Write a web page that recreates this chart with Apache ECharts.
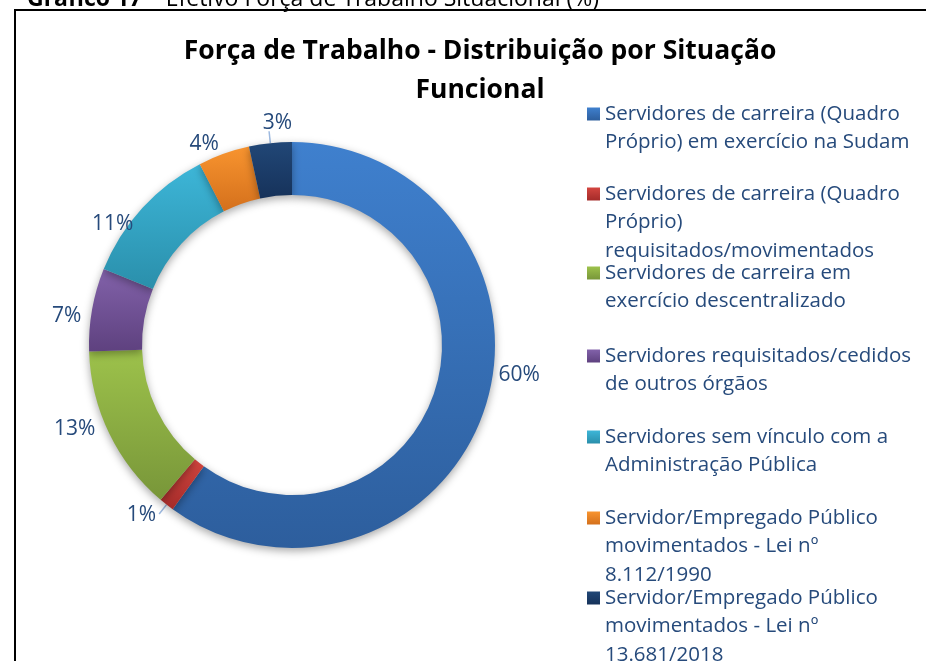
<!DOCTYPE html>
<html>
<head>
    <meta charset="utf-8">
    <title>Força de Trabalho</title>
    <script src="https://cdn.jsdelivr.net/npm/echarts@6/dist/echarts.min.js"></script>
</head>
<body style="margin: 0">
<div id="main" style="width: 926px; height: 661px"></div>
<script type="text/javascript">
// categorias (nome da série) e texto quebrado da legenda
var categorias = [
    'Servidores de carreira (Quadro Próprio) em exercício na Sudam',
    'Servidores de carreira (Quadro Próprio) requisitados/movimentados',
    'Servidores de carreira em exercício descentralizado',
    'Servidores requisitados/cedidos de outros órgãos',
    'Servidores sem vínculo com a Administração Pública',
    'Servidor/Empregado Público movimentados - Lei nº 8.112/1990',
    'Servidor/Empregado Público movimentados - Lei nº 13.681/2018'
];
var legendaTexto = [
    'Servidores de carreira (Quadro\nPróprio) em exercício na Sudam',
    'Servidores de carreira (Quadro\nPróprio)\nrequisitados/movimentados',
    'Servidores de carreira em\nexercício descentralizado',
    'Servidores requisitados/cedidos\nde outros órgãos',
    'Servidores sem vínculo com a\nAdministração Pública',
    'Servidor/Empregado Público\nmovimentados - Lei nº\n8.112/1990',
    'Servidor/Empregado Público\nmovimentados - Lei nº\n13.681/2018'
];
// percentuais
var valores = [60.0, 1.2, 13.3, 6.6, 11.4, 4.1, 3.4];
var coresTopo = ['#3F80CE', '#D3453F', '#9DC24B', '#8262AA', '#3DB6D8', '#F8942F', '#214777'];
var coresBase = ['#2D5E9D', '#A42B29', '#789639', '#5E417F', '#2A8FAB', '#D4701C', '#16325A'];
var comLinha = [false, true, false, false, false, false, true];

var fonte = '"Open Sans", sans-serif';
var corTexto = '#264A7B';
var linha = 28.5;
var centrosIcone = [114, 194, 273, 356, 437, 518, 598];

var dom = document.getElementById('main');
var myChart = echarts.init(dom);

// uma legenda por item, para o ícone ficar na primeira linha do texto
var legendas = [];
for (var i = 0; i < categorias.length; i++) {
    var n = legendaTexto[i].split('\n').length;
    var vazio = new Array(n).join('\n'); // linhas vazias antes: 1ª linha fica no centro
    legendas.push({
        orient: 'vertical',
        left: 587,
        top: centrosIcone[i] - (2 * n - 1) * linha / 2,
        padding: 0,
        itemWidth: 13,
        itemHeight: 13,
        itemGap: 0,
        icon: 'rect',
        selectedMode: false,
        data: [categorias[i]],
        formatter: (function (t) {
            return function () { return t; };
        })(vazio + legendaTexto[i]),
        textStyle: {
            fontFamily: fonte,
            fontSize: 20.5,
            color: corTexto,
            lineHeight: linha
        }
    });
}

var dados = valores.map(function (v, i) {
    return {
        name: categorias[i],
        value: v,
        itemStyle: {
            color: new echarts.graphic.LinearGradient(0, 0, 0, 1, [
                {offset: 0, color: coresTopo[i]},
                {offset: 1, color: coresBase[i]}
            ])
        },
        labelLine: {show: comLinha[i]}
    };
});

option = {
    animation: false,
    backgroundColor: '#fff',
    title: {
        text: 'Força de Trabalho - Distribuição por Situação\nFuncional',
        left: 475,
        textAlign: 'center',
        top: 27,
        textStyle: {
            fontFamily: fonte,
            fontSize: 26.5,
            fontWeight: 'bold',
            color: '#000',
            lineHeight: 39
        }
    },
    legend: legendas,
    graphic: [{
        type: 'rect',
        z: -1,
        shape: {x: 15, y: 10, width: 1000, height: 1000},
        style: {fill: 'none', stroke: '#000', lineWidth: 2}
    }, {
        type: 'text',
        x: 27,
        y: 11,
        style: {
            text: '{b|Gráfico 17} – Efetivo Força de Trabalho Situacional (%)',
            verticalAlign: 'bottom',
            font: '23px ' + fonte,
            fill: '#000',
            rich: {b: {fontWeight: 'bold', fontSize: 23, fontFamily: fonte}}
        }
    }],
    series: [{
        type: 'pie',
        center: [292, 345],
        radius: [150, 203],
        startAngle: 90,
        clockwise: true,
        avoidLabelOverlap: false,
        itemStyle: {
            shadowBlur: 8,
            shadowOffsetY: 3,
            shadowColor: 'rgba(0,0,0,0.35)'
        },
        label: {
            show: true,
            position: 'outside',
            fontFamily: fonte,
            fontSize: 21,
            color: corTexto,
            formatter: function (p) { return Math.round(p.value) + '%'; }
        },
        labelLine: {
            length: 12,
            length2: 0,
            lineStyle: {color: '#9DB9E0', width: 1.5}
        },
        // ajuste fino como no Excel ("melhor ajuste")
        labelLayout: function (p) {
            var desloc = [[-3, -36], [2, 1], [2, -9], [6, 9], [5, 24], [4, 2], [28, -8]];
            return {dx: desloc[p.dataIndex][0], dy: desloc[p.dataIndex][1]};
        },
        data: dados
    }]
};
myChart.setOption(option);
</script>
</body>
</html>
